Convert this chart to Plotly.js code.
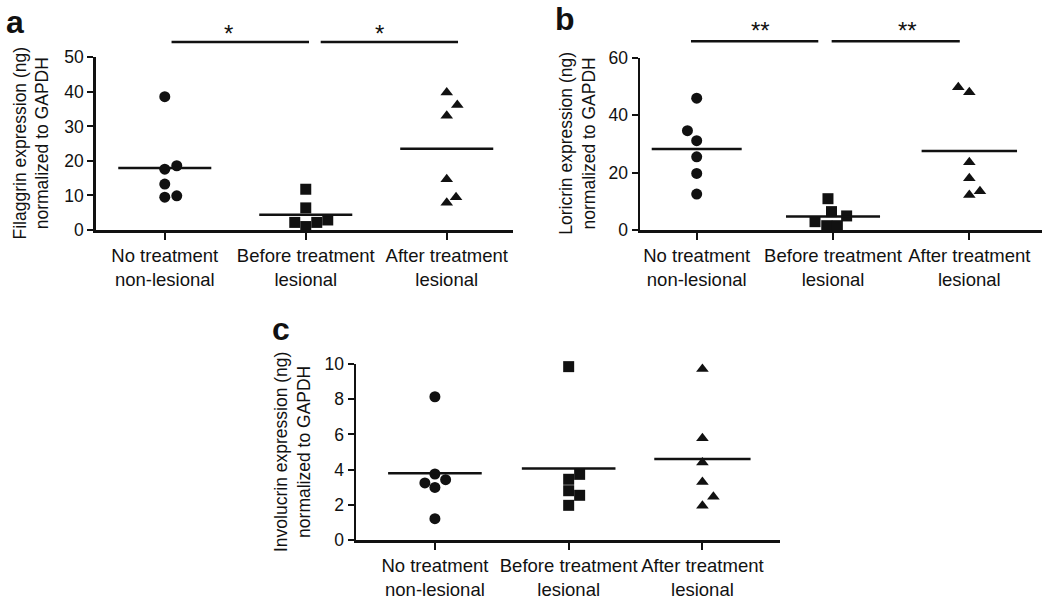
<!DOCTYPE html>
<html>
<head>
<meta charset="utf-8">
<script src="https://cdn.plot.ly/plotly-3.0.1.min.js"></script>
<style>
  html, body { margin: 0; padding: 0; background: #fff; }
  #chart { width: 1050px; height: 606px; }
</style>
</head>
<body>
<div id="chart"></div>
<script>
// groups on the x axis (same for the three panels)
var categories = ['No treatment<br>non-lesional', 'Before treatment<br>lesional', 'After treatment<br>lesional'];
var symbols = ['circle', 'square', 'triangle-up'];

// a - Filaggrin
var filaggrinNoTx     = [38.6, 17.6, 18.6, 13.3, 9.5, 9.9];
var filaggrinNoTxDx   = [0, 0, 0.085, 0, 0, 0.085];
var filaggrinBefore   = [11.8, 6.4, 2.2, 2.2, 2.9, 1.0];
var filaggrinBeforeDx = [0, 0, -0.078, 0.078, 0.156, 0];
var filaggrinAfter    = [39.8, 36.2, 33.1, 14.7, 9.5, 7.9];
var filaggrinAfterDx  = [0, 0.075, 0, 0, 0.066, 0];

// b - Loricrin
var loricrinNoTx      = [45.9, 34.6, 31.1, 25.5, 19.7, 12.5];
var loricrinNoTxDx    = [0, -0.068, 0, 0, 0, 0];
var loricrinBefore    = [10.9, 6.4, 2.9, 4.9, 1.5, 1.5];
var loricrinBeforeDx  = [-0.037, -0.011, -0.132, 0.1, -0.046, 0.032];
var loricrinAfter     = [49.7, 48.0, 23.6, 18.0, 12.2, 13.5];
var loricrinAfterDx   = [-0.081, 0, 0, 0, 0, 0.078];

// c - Involucrin
var involucrinNoTx     = [8.14, 3.75, 3.24, 3.43, 2.99, 1.21];
var involucrinNoTxDx   = [0, 0, -0.075, 0.08, 0, 0];
var involucrinBefore   = [9.85, 3.73, 3.45, 2.8, 2.54, 1.97];
var involucrinBeforeDx = [0, 0.082, 0, 0, 0.082, 0];
var involucrinAfter    = [9.72, 5.78, 4.41, 3.3, 2.46, 1.95];
var involucrinAfterDx  = [0, 0, 0, 0, 0.082, 0];

var yTitles = ['Filaggrin expression (ng)<br>normalized to GAPDH',
               'Loricrin expression (ng)<br>normalized to GAPDH',
               'Involucrin expression (ng)<br>normalized to GAPDH'];
var stars = ['*', '**'];

var FONT = 'Arial, "Liberation Sans", sans-serif';
var fs = 17.5;

function mean(a) {
    var s = 0;
    a.forEach(function (v) { s += v; });
    return s / a.length;
}

var data = [];
function addGroup(vals, dx, idx, sub, halfW) {
    var xs = [];
    for (var i = 0; i < vals.length; i++) xs.push(idx + dx[i]);
    data.push({
        x: xs, y: vals, xaxis: 'x' + sub, yaxis: 'y' + sub,
        mode: 'markers', type: 'scatter', cliponaxis: false, hoverinfo: 'skip',
        marker: { symbol: symbols[idx], size: 11, color: '#111' }
    });
    // mean line
    var m = mean(vals);
    data.push({
        x: [idx - halfW, idx + halfW], y: [m, m], xaxis: 'x' + sub, yaxis: 'y' + sub,
        mode: 'lines', type: 'scatter', cliponaxis: false, hoverinfo: 'skip',
        line: { color: '#111', width: 2.5 }
    });
}

addGroup(filaggrinNoTx, filaggrinNoTxDx, 0, '', 0.33);
addGroup(filaggrinBefore, filaggrinBeforeDx, 1, '', 0.33);
addGroup(filaggrinAfter, filaggrinAfterDx, 2, '', 0.33);
addGroup(loricrinNoTx, loricrinNoTxDx, 0, '2', 0.33);
addGroup(loricrinBefore, loricrinBeforeDx, 1, '2', 0.345);
addGroup(loricrinAfter, loricrinAfterDx, 2, '2', 0.35);
addGroup(involucrinNoTx, involucrinNoTxDx, 0, '3', 0.35);
addGroup(involucrinBefore, involucrinBeforeDx, 1, '3', 0.35);
addGroup(involucrinAfter, involucrinAfterDx, 2, '3', 0.36);

function xAx(domain, range) {
    return {
        domain: domain, range: range, tickvals: [0, 1, 2], ticktext: categories,
        showline: true, linecolor: '#111', linewidth: 2.5, ticks: 'outside', ticklen: 7,
        tickwidth: 2, tickcolor: '#111', showgrid: false, zeroline: false, fixedrange: true,
        tickfont: { family: FONT, size: 18.5, color: '#111' }
    };
}
function yAx(domain, range, dtick) {
    return {
        domain: domain, range: range, dtick: dtick, tick0: 0,
        showline: true, linecolor: '#111', linewidth: 2.5, ticks: 'outside', ticklen: 6,
        tickwidth: 2, tickcolor: '#111', showgrid: false, zeroline: false, fixedrange: true,
        tickfont: { family: FONT, size: 17.5, color: '#111' }
    };
}

var W = 1050, H = 606;
function px(x) { return x / W; }
function py(y) { return 1 - y / H; }

var layout = {
    width: W, height: H,
    margin: { l: 0, r: 0, t: 0, b: 0 },
    paper_bgcolor: '#fff', plot_bgcolor: '#fff',
    showlegend: false,
    font: { family: FONT, color: '#111' },
    xaxis:  xAx([px(95.7), px(513)], [-0.49, 2.47]),
    yaxis:  yAx([py(230), py(57.3)], [0, 50], 10),
    xaxis2: xAx([px(640), px(1041.7)], [-0.416, 2.531]),
    yaxis2: yAx([py(230), py(57.7)], [0, 60], 20),
    xaxis3: xAx([px(356), px(780)], [-0.59, 2.58]),
    yaxis3: yAx([py(540), py(364)], [0, 10], 2),
    shapes: [],
    annotations: []
};
layout.xaxis2.anchor = 'y2'; layout.yaxis2.anchor = 'x2';
layout.xaxis3.anchor = 'y3'; layout.yaxis3.anchor = 'x3';

// significance bars
var sig = [
    { xr: 'x',  x0: 0.048, x1: 1.023, y: 42,   sx: 0.454, sy: 49, s: stars[0] },
    { xr: 'x',  x0: 1.106, x1: 2.08,  y: 42,   sx: 1.525, sy: 49, s: stars[0] },
    { xr: 'x2', x0: -0.042, x1: 0.892, y: 41.3, sx: 0.465, sy: 46, s: stars[1] },
    { xr: 'x2', x0: 0.99,  x1: 1.93,  y: 41.3, sx: 1.547, sy: 46, s: stars[1] }
];
sig.forEach(function (b) {
    layout.shapes.push({
        type: 'line', xref: b.xr, yref: 'paper', x0: b.x0, x1: b.x1, y0: py(b.y), y1: py(b.y),
        line: { color: '#111', width: 2.5 }
    });
    layout.annotations.push({
        xref: b.xr, yref: 'paper', x: b.sx, y: py(b.sy), yanchor: 'bottom', xanchor: 'center',
        text: b.s, showarrow: false, font: { family: FONT, size: 24, color: '#111' }
    });
});

// y axis titles
var yt = [[31, 143.5], [578, 143.8], [292, 452]];
yt.forEach(function (p, i) {
    layout.annotations.push({
        xref: 'paper', yref: 'paper', x: px(p[0]), y: py(p[1]), xanchor: 'center', yanchor: 'middle',
        text: yTitles[i], textangle: -90, showarrow: false,
        font: { family: FONT, size: fs, color: '#111' }
    });
});

// panel letters
var letters = [['a', 15, 22], ['b', 565, 19], ['c', 281, 329]];
letters.forEach(function (l) {
    layout.annotations.push({
        xref: 'paper', yref: 'paper', x: px(l[1]), y: py(l[2]), xanchor: 'center', yanchor: 'middle',
        text: '<b>' + l[0] + '</b>', showarrow: false,
        font: { family: FONT, size: 32, color: '#111' }
    });
});

Plotly.newPlot('chart', data, layout, { staticPlot: true });
</script>
</body>
</html>
